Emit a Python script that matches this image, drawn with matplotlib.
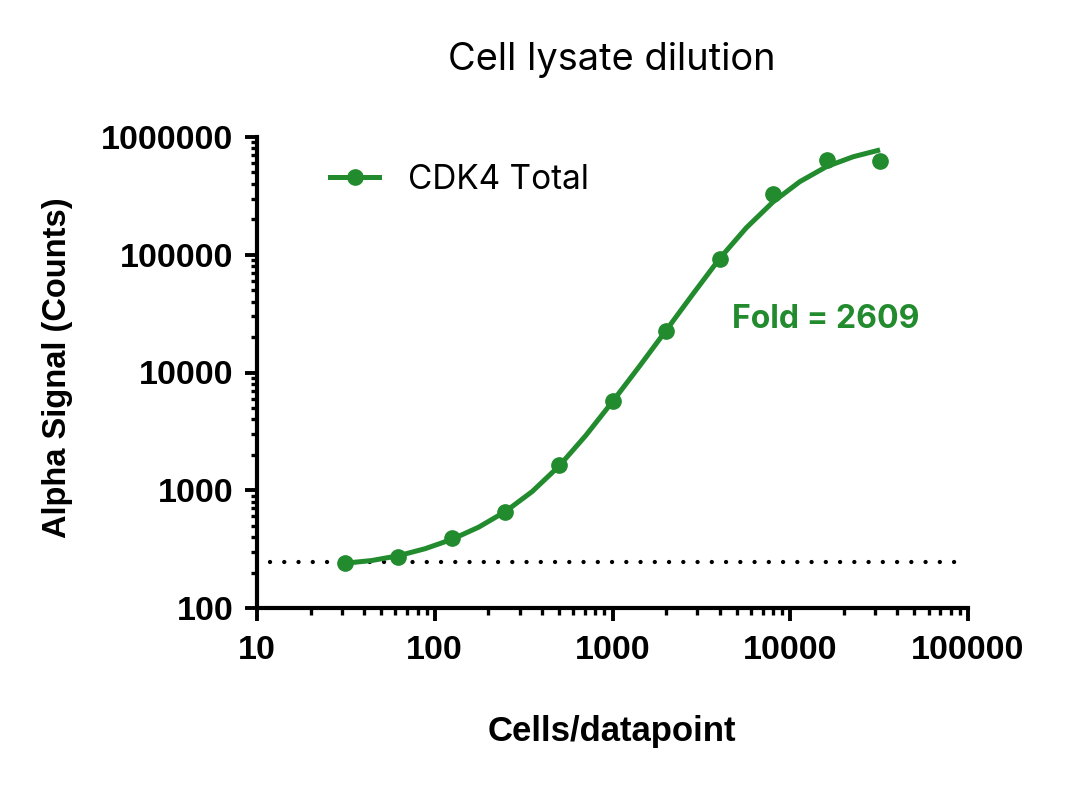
import matplotlib
matplotlib.use("Agg")
import matplotlib.pyplot as plt
from matplotlib.ticker import LogLocator, NullFormatter
from matplotlib.lines import Line2D

# ---- data ----
cells = [31.25, 62.5, 125, 250, 500, 1000, 2000, 4000, 8000, 16000, 32000]
signal = [240, 272, 392, 651, 1630, 5680, 22700, 92500, 329000, 638000, 627000]

# fitted curve
curve_x = [31.25, 44.19, 62.5, 88.39, 125, 176.8, 250, 353.6, 500, 707.1, 1000,
           1414, 2000, 2828, 4000, 5657, 8000, 11314, 16000, 22627, 32000]
curve_y = [240, 253, 278, 319, 383, 486, 660, 976, 1602, 2914, 5656,
           11234, 22728, 46180, 92600, 169300, 280900, 417400, 560600, 680200, 777300]

baseline_x = [11.8, 87000]
baseline_y = [248, 248]

xticks = [10, 100, 1000, 10000, 100000]
xtick_labels = ["10", "100", "1000", "10000", "100000"]
yticks = [100, 1000, 10000, 100000, 1000000]
ytick_labels = ["100", "1000", "10000", "100000", "1000000"]

series_label = "CDK4 Total"
fold_text = "Fold = 2609"
title = "Cell lysate dilution"
xlabel = "Cells/datapoint"
ylabel = "Alpha Signal (Counts)"

GREEN = "#228B2E"
W, H = 1080, 787

fig = plt.figure(figsize=(W / 100, H / 100), dpi=100)
ax = fig.add_axes([257 / W, 179 / H, 711 / W, 471 / H])

ax.set_xscale("log")
ax.set_yscale("log")
ax.set_xlim(10, 100000)
ax.set_ylim(100, 1000000)

ax.plot(baseline_x, baseline_y, color="black", lw=3.1,
        linestyle=(0, (0.01, 3.3)), dash_capstyle="round", zorder=1)
ax.plot(curve_x, curve_y, color=GREEN, lw=3.6, zorder=2,
        solid_capstyle="butt", solid_joinstyle="round")
ax.plot(cells, signal, "o", color=GREEN, ms=11, zorder=3)

for s in ["top", "right"]:
    ax.spines[s].set_visible(False)
for s in ["left", "bottom"]:
    ax.spines[s].set_linewidth(3.0)
    ax.spines[s].set_capstyle("projecting")

lab_family = ["Liberation Sans", "DejaVu Sans"]
ax.set_xticks(xticks, labels=xtick_labels)
ax.set_yticks(yticks, labels=ytick_labels)
for lab in ax.get_xticklabels() + ax.get_yticklabels():
    lab.set_fontfamily(lab_family)
    lab.set_fontweight("bold")
    lab.set_fontsize(24.5)
ax.xaxis.set_minor_locator(LogLocator(base=10, subs=range(2, 10), numticks=20))
ax.yaxis.set_minor_locator(LogLocator(base=10, subs=range(2, 10), numticks=20))
ax.xaxis.set_minor_formatter(NullFormatter())
ax.yaxis.set_minor_formatter(NullFormatter())
ax.tick_params(axis="x", which="major", direction="out", length=9.4, width=2.8, pad=10)
ax.tick_params(axis="y", which="major", direction="out", length=8.6, width=2.8, pad=8.5)
ax.tick_params(axis="x", which="minor", direction="out", length=5, width=2.4)
ax.tick_params(axis="y", which="minor", direction="out", length=4.3, width=2.4)

geo = ["Inter", "Lato", "DejaVu Sans"]
fig.text(612 / W, 1 - 60 / H, title, ha="center", va="center",
         family=geo, fontsize=27.4)
fig.text(612 / W, 1 - 731 / H, xlabel, ha="center", va="center",
         family=lab_family, weight="bold", fontsize=25)
fig.text(58 / W, 1 - 368 / H, ylabel, ha="center", va="center", rotation=90,
         family=lab_family, weight="bold", fontsize=23.5)
fig.text(732 / W, 1 - 320 / H, fold_text, ha="left", va="center",
         family=geo, weight="bold", color=GREEN, fontsize=23)

handle = Line2D([], [], color=GREEN, lw=3.6, marker="o", ms=11)
leg = ax.legend([handle], [series_label], loc="center left",
                bbox_to_anchor=(330 / W, 1 - 180 / H), bbox_transform=fig.transFigure,
                frameon=False, borderaxespad=0, borderpad=0,
                handlelength=1.47, handletextpad=0.86,
                prop=dict(family=geo, size=24))

fig.savefig("out.png", dpi=100)
